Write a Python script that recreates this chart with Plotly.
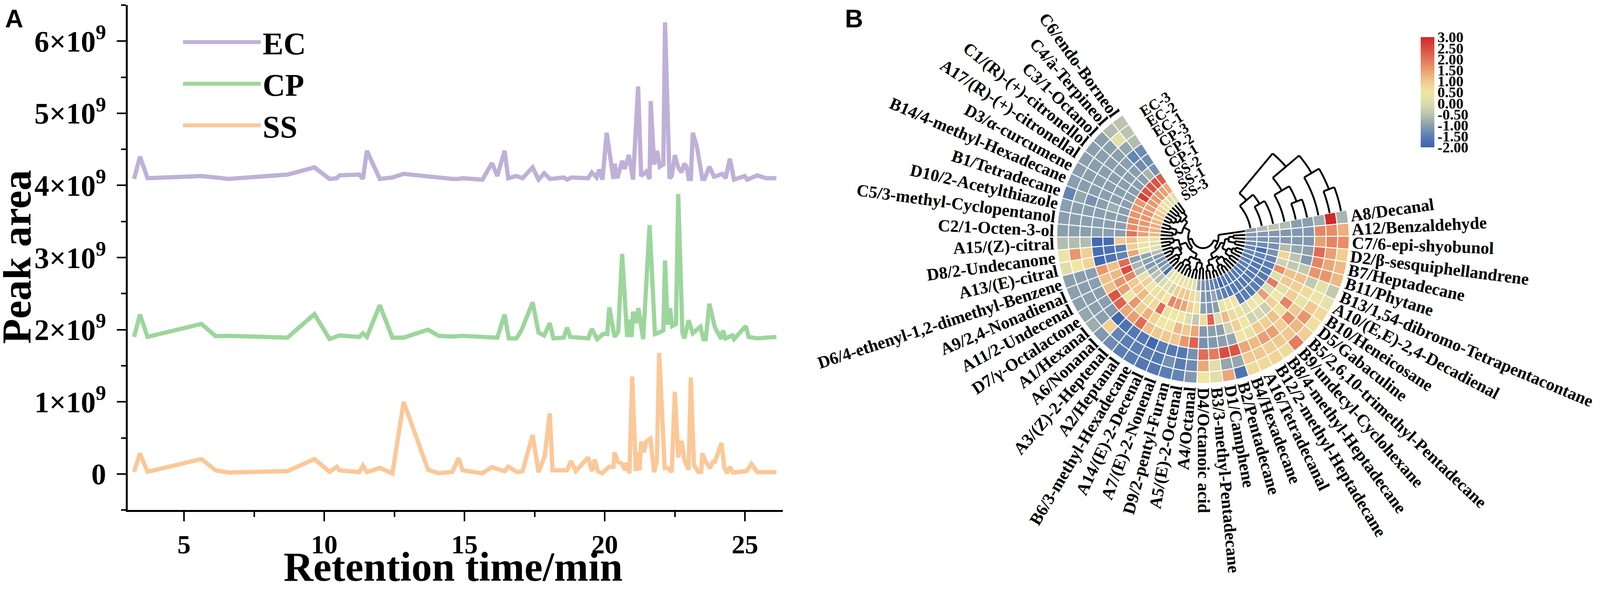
from math import cos, radians, sin

import plotly.graph_objects as go

# Layout numbers below are pixels of a 4317x1520 sheet, given to plotly as fractions of the page
W, H = 4317, 1520
S = 0.948  # page comes out a little narrower than the sheet, so px sizes shrink with it
H_CIRCLE = 1580  # vertical px scale that keeps the fan round

# Panel A: retention time (min) and peak area (x10^9)
ec_time = [3.22, 3.43, 3.70, 5.62, 6.13, 6.58, 8.69, 9.65, 10.19, 10.45, 10.54, 11.25, 11.38, 11.52, 11.98, 12.43,
           12.83, 13.70, 14.08, 14.57, 14.79, 14.93, 15.64, 15.98, 16.17, 16.43, 16.56, 16.85, 17.07, 17.43, 17.64,
           17.84, 18.05, 18.54, 18.66, 18.81, 19.41, 19.54, 19.71, 19.80, 19.92, 20.07, 20.31, 20.35, 20.45, 20.62,
           20.71, 20.86, 21.01, 21.19, 21.30, 21.48, 21.60, 21.64, 21.76, 21.87, 21.96, 22.09, 22.15, 22.31, 22.39,
           22.50, 22.62, 22.74, 22.83, 22.92, 22.99, 23.07, 23.14, 23.29, 23.48, 23.56, 23.73, 23.90, 24.20, 24.31,
           24.46, 24.61, 24.99, 25.08, 25.44, 25.74, 26.12]
ec_area = [4.09, 4.40, 4.10, 4.13, 4.11, 4.09, 4.15, 4.25, 4.09, 4.10, 4.14, 4.15, 4.09, 4.48, 4.09, 4.11,
           4.16, 4.12, 4.10, 4.09, 4.09, 4.10, 4.08, 4.31, 4.13, 4.48, 4.10, 4.13, 4.10, 4.25, 4.08,
           4.17, 4.09, 4.11, 4.08, 4.11, 4.10, 4.18, 4.11, 4.22, 4.08, 4.73, 4.09, 4.30, 4.10, 4.34,
           4.23, 4.42, 4.08, 5.37, 4.13, 4.19, 4.09, 5.17, 4.29, 4.48, 4.26, 4.29, 6.26, 4.10, 4.13,
           4.42, 4.25, 4.18, 4.30, 4.26, 4.09, 4.09, 4.73, 4.53, 4.09, 4.09, 4.26, 4.12, 4.16, 4.10,
           4.37, 4.08, 4.13, 4.08, 4.14, 4.10, 4.10]

cp_time = [3.22, 3.43, 3.70, 5.62, 6.13, 6.58, 8.69, 9.65, 10.19, 10.45, 10.54, 11.25, 11.38, 11.52, 11.98, 12.43,
           12.83, 13.70, 14.08, 14.57, 14.79, 14.93, 15.64, 16.17, 16.43, 16.58, 16.85, 17.03, 17.43, 17.64, 17.84,
           18.04, 18.17, 18.54, 18.66, 18.77, 19.41, 19.54, 19.73, 19.94, 20.09, 20.16, 20.35, 20.48, 20.62, 20.80,
           20.86, 20.96, 21.01, 21.11, 21.20, 21.37, 21.60, 21.79, 21.94, 22.09, 22.15, 22.24, 22.33, 22.40, 22.54,
           22.62, 22.77, 22.84, 22.99, 23.14, 23.41, 23.52, 23.60, 23.73, 23.93, 24.16, 24.21, 24.31, 24.55, 24.61,
           25.03, 25.13, 25.44, 26.12]
cp_area = [1.90, 2.21, 1.90, 2.08, 1.91, 1.915, 1.89, 2.216, 1.87, 1.915, 1.92, 1.90, 1.95, 1.90, 2.34, 1.89,
           1.89, 2.00, 1.915, 1.905, 1.905, 1.915, 1.90, 1.89, 2.21, 1.88, 1.88, 1.99, 2.38, 1.96, 1.92,
           2.09, 1.88, 1.89, 2.03, 1.90, 1.88, 2.01, 1.87, 1.94, 1.94, 2.31, 1.90, 1.97, 3.05, 1.90,
           2.14, 1.90, 2.25, 2.09, 2.30, 1.87, 3.45, 1.94, 1.96, 1.99, 2.96, 2.07, 2.30, 2.05, 2.08,
           3.88, 1.96, 1.88, 2.13, 1.95, 2.04, 1.87, 1.87, 2.36, 2.03, 1.87, 1.99, 1.88, 1.92, 1.87,
           2.05, 1.90, 1.88, 1.90]

ss_time = [3.22, 3.43, 3.70, 5.62, 6.13, 6.58, 8.69, 9.65, 10.19, 10.45, 10.54, 11.25, 11.38, 11.52, 11.98, 12.43,
           12.83, 13.70, 14.08, 14.57, 14.79, 14.93, 15.64, 15.98, 16.17, 16.43, 16.56, 16.88, 17.07, 17.43, 17.64,
           17.86, 18.04, 18.14, 18.66, 18.79, 18.97, 19.41, 19.54, 19.64, 19.75, 19.90, 20.16, 20.31, 20.35, 20.47,
           20.62, 20.73, 20.77, 20.88, 20.98, 21.11, 21.17, 21.24, 21.30, 21.39, 21.48, 21.63, 21.76, 21.86, 21.94,
           22.14, 22.27, 22.39, 22.50, 22.62, 22.74, 22.84, 22.99, 23.07, 23.18, 23.33, 23.44, 23.48, 23.60, 23.75,
           23.86, 23.93, 24.16, 24.27, 24.37, 24.46, 24.57, 25.06, 25.23, 25.44, 26.12]
ss_area = [0.03, 0.285, 0.03, 0.207, 0.05, 0.02, 0.04, 0.207, 0.03, 0.10, 0.05, 0.025, 0.115, 0.025, 0.085, 0.007,
           1.00, 0.06, 0.01, 0.03, 0.22, 0.05, 0.01, 0.095, 0.07, 0.04, 0.10, 0.025, 0.04, 0.54, 0.025,
           0.25, 0.84, 0.05, 0.05, 0.18, 0.04, 0.23, 0.04, 0.20, 0.04, 0.01, 0.10, 0.10, 0.30, 0.17,
           0.14, 0.05, 0.155, 0.01, 1.35, 0.04, 0.30, 0.05, 0.45, 0.30, 0.45, 0.49, 0.025, 0.18, 1.68,
           0.08, 0.08, 0.025, 1.14, 0.23, 0.46, 0.19, 0.06, 1.34, 0.13, 0.03, 0.03, 0.285, 0.17, 0.08,
           0.17, 0.17, 0.43, 0.08, 0.01, 0.10, 0.02, 0.04, 0.14, 0.025, 0.025]

y_major = [0, 1, 2, 3, 4, 5, 6]
y_major_text = ["0", "1×10<sup>9</sup>", "2×10<sup>9</sup>", "3×10<sup>9</sup>", "4×10<sup>9</sup>", "5×10<sup>9</sup>",
                "6×10<sup>9</sup>"]
y_minor = [-0.5, 0.5, 1.5, 2.5, 3.5, 4.5, 5.5, 6.5]

# Panel B: rows run anticlockwise from the top of the fan, rings outer to inner
ring_names = ["EC-3", "EC-2", "EC-1", "CP-3", "CP-2", "CP-1", "SS-2", "SS-1", "SS-3"]
compounds = [
    "C6/endo-Borneol", "C4/à-Terpineol", "C3/1-Octanol", "C1/(R)-(+)-citronellol", "A17/(R)-(+)-citronellal",
    "D3/α-curcumene", "B14/4-methyl-Hexadecane", "B1/Tetradecane", "D10/2-Acetylthiazole",
    "C5/3-methyl-Cyclopentanol", "C2/1-Octen-3-ol", "A15/(Z)-citral", "D8/2-Undecanone", "A13/(E)-citral",
    "D6/4-ethenyl-1,2-dimethyl-Benzene", "A9/2,4-Nonadienal", "A11/2-Undecenal", "D7/γ-Octalactone", "A1/Hexanal",
    "A6/Nonanal", "A3/(Z)-2-Heptenal", "A2/Heptanal", "B6/3-methyl-Hexadecane", "A14/(E)-2-Decenal",
    "A7/(E)-2-Nonenal", "D9/2-pentyl-Furan", "A5/(E)-2-Octenal", "A4/Octanal", "D4/Octanoic acid",
    "B3/3-methyl-Pentadecane", "D1/Camphene", "B2/Pentadecane", "B4/Hexadecane", "A16/Tetradecanal",
    "B12/2-methyl-Heptadecane", "B8/4-methyl-Heptadecane", "B9/undecyl-Cyclohexane",
    "B5/2,6,10-trimethyl-Pentadecane", "D5/Gabaculine", "B10/Heneicosane", "A10/(E,E)-2,4-Decadienal",
    "B13/1,54-dibromo-Tetrapentacontane", "B11/Phytane", "B7/Heptadecane", "D2/β-sesquiphellandrene",
    "C7/6-epi-shyobunol", "A12/Benzaldehyde", "A8/Decanal",
]
heat_values = [
    [-0.5, -0.5, -0.6, -1.3, -1.3, -1.2, 2.3, 1.4, 0.1],
    [-0.6, 0.2, -0.9, -1.4, -1.3, -0.7, 2.4, 1.5, 0.0],
    [-1.0, -1.0, -1.0, -1.0, -1.0, -1.0, 2.4, 1.6, 0.3],
    [-1.0, -1.0, -1.0, -1.0, -1.0, -1.0, 2.4, 1.6, 0.6],
    [-1.0, -1.0, -1.0, -1.0, -1.0, -1.0, 2.7, 1.6, 0.8],
    [-1.0, -1.0, -1.0, -1.0, -1.0, -1.0, 1.6, 1.5, 1.0],
    [-1.0, -1.0, -1.0, -1.0, -1.0, -1.0, 1.6, 1.6, 1.1],
    [-1.4, -0.9, -1.2, -1.0, -0.8, -1.0, 1.6, 1.6, 1.2],
    [-1.0, -1.0, -1.0, -1.0, -1.0, -1.0, 1.7, 1.6, 1.3],
    [-1.0, -1.0, -1.0, -1.0, -1.0, -1.0, 1.7, 1.5, 1.3],
    [-1.0, -1.0, -1.0, -1.0, -1.0, -1.0, 2.0, 1.5, 1.2],
    [-0.6, -0.6, -0.6, -1.9, -1.8, 1.0, 1.1, 0.6, 0.3],
    [0.4, 1.6, 0.9, -1.8, -1.7, -1.5, 0.9, 0.4, 0.1],
    [0.1, 0.5, 0.8, -1.9, -1.7, -1.4, 1.4, 0.5, 0.1],
    [-1.0, -1.0, -1.0, 1.6, 1.1, 2.1, -1.0, -0.9, -0.6],
    [-1.0, -1.0, -1.0, 1.1, 1.2, 2.5, -0.7, -1.0, -1.1],
    [-1.0, -1.0, -1.0, 1.1, 1.6, 1.8, -0.6, -1.1, -1.2],
    [-0.9, -1.0, -1.0, 2.4, 1.5, 1.0, 0.3, -0.8, -1.2],
    [-0.8, -1.0, -1.1, 2.2, 0.5, 1.0, 0.9, -0.5, -1.0],
    [-1.1, 0.9, -1.9, 1.4, 1.6, 1.2, 0.5, -0.6, -1.9],
    [-1.3, -1.4, -1.7, 1.5, 0.9, 0.7, 0.6, 0.0, 0.1],
    [-1.5, -1.5, -1.6, 2.1, 1.3, 0.7, 0.7, 0.2, 0.4],
    [-1.5, -1.5, -1.6, 1.1, 0.8, 2.1, 0.5, -0.1, 0.5],
    [-1.6, -1.5, -1.9, 1.0, 0.5, 0.6, 1.8, 0.9, 0.2],
    [-1.6, -1.6, -1.5, 1.0, 0.5, 0.5, 1.6, 1.0, 0.3],
    [-1.5, -1.2, -1.6, 1.0, 1.2, 0.5, 1.4, 1.0, 0.2],
    [-1.4, -1.5, -1.6, 1.6, 1.0, 0.0, 0.9, 0.7, 0.2],
    [-1.1, -1.3, -1.2, 2.2, 1.4, -0.4, 0.6, 0.1, -0.9],
    [0.5, 1.4, 2.1, -1.2, -1.1, 0.7, -1.0, -1.1, -1.2],
    [0.1, 0.1, 1.9, -1.1, -1.0, 2.2, -1.1, -1.2, -1.3],
    [1.4, -0.9, 2.5, -1.0, -1.0, 0.0, -1.0, -0.9, -1.4],
    [-1.7, -0.9, 2.4, -0.9, -0.2, 1.2, 0.4, -1.3, -1.5],
    [0.7, 1.0, 1.4, 0.5, 0.9, 0.7, 0.5, -1.5, -2.0],
    [0.7, 1.0, 1.2, 0.3, 0.5, 0.3, 0.5, -1.6, -1.6],
    [0.8, 0.9, 1.5, 1.0, -0.2, 0.0, -1.6, -1.6, -1.6],
    [0.7, 1.0, 1.5, 0.9, -0.1, 0.5, -1.5, -1.6, -1.6],
    [1.9, 1.0, 0.9, 1.1, -0.3, 0.5, -1.6, -1.6, -1.6],
    [0.9, 1.2, 1.7, 0.6, 0.9, 1.5, -1.5, -1.6, -1.6],
    [0.6, 1.6, 1.0, 1.8, 0.5, 0.0, -1.6, -1.6, -1.6],
    [0.7, 1.0, 0.3, 0.9, 0.2, 1.9, -1.6, -1.6, -1.5],
    [0.3, 0.4, 0.7, 0.9, 1.0, 0.1, -1.6, -1.6, -1.5],
    [-0.4, 0.2, -0.4, 1.1, 1.1, 1.7, -1.5, -1.6, -1.6],
    [1.2, 1.6, 1.6, -0.4, -0.4, -0.2, -1.4, -1.4, -1.4],
    [1.2, 1.4, 1.8, -1.1, -0.5, 0.8, -1.2, -1.8, -1.4],
    [0.9, 1.5, 2.1, -1.0, -0.9, -0.6, -1.2, -1.3, -1.3],
    [1.7, 1.8, 1.5, -1.1, -1.1, -1.1, -1.1, -1.2, -1.1],
    [1.3, 1.7, 1.8, -1.1, -1.1, -1.1, -1.1, -1.1, -1.1],
    [-0.7, 3.0, -0.8, -1.0, -1.0, -0.6, -0.5, -0.6, -1.0],
]
# [merge radius, child, child]; ints are row numbers
row_tree = [30,
            [40,
             [58,
              [70, [84, 1, 2], [78, [90, 3, 4], [86, 5, [96, 6, 7]]]],
              [74, [92, 8, 9], [82, 10, 11]]],
             [48,
              [66, [80, 12, [90, 13, 14]], [72, [88, 15, [94, 16, 17]], [84, 18, [92, 19, 20]]]],
              [62, [76, [90, 21, 22], [86, 23, [94, 24, 25]]], [70, [90, 26, 27], [84, 28, 29]]]]],
            [42,
             [50,
              [64, [78, [92, 30, 31], [96, 32, 33]], [72, [88, 34, [96, 35, 36]], [84, 37, 38]]],
              [60, [74, [90, 39, 40], [86, 41, [94, 42, 43]]], [70, [88, 44, 45], [82, 46, 47]]]],
             48]]
# [merge angle, child, child]; ints are ring positions
ring_tree = [50.2,
             [40.3, [30.5, [20.8, 0, 1], 2], [30.5, [20.8, 3, 4], 5]],
             [40.3, [30.4, 6, 7], 8]]

cbar_ticks = [3.0, 2.5, 2.0, 1.5, 1.0, 0.5, 0.0, -0.5, -1.0, -1.5, -2.0]
cbar_text = ["3.00", "2.50", "2.00", "1.50", "1.00", "0.50", "0.00", "-0.50", "-1.00", "-1.50", "-2.00"]
heat_colors = ["#3a63b0", "#5b7db4", "#8a9fae", "#bcc4b0", "#dcdcac", "#efe6a2", "#f1c88e", "#ea9f72", "#e4735a",
               "#db4c3f", "#cf2a27"]
line_colors = {"EC": "#bfb0d8", "CP": "#9cd69c", "SS": "#fbc898"}

# Times Bold advance widths, for centring the rotated labels
char_em = {"i": .278, "l": .278, "j": .333, "t": .333, "f": .333, "r": .444, "s": .389, "e": .444, "c": .444,
           "a": .5, "o": .5, "b": .556, "d": .556, "g": .5, "h": .556, "k": .556, "m": .833, "n": .556, "p": .556,
           "q": .556, "u": .556, "v": .5, "x": .5, "y": .5, "z": .444, "-": .333, "/": .278, "(": .333, ")": .333,
           ",": .25, " ": .25, "+": .57, "A": .722, "B": .667, "C": .722, "D": .722, "E": .667, "F": .611, "G": .778,
           "H": .778, "N": .722, "O": .778, "P": .611, "R": .722, "T": .667, "U": .722, "Z": .667}

FONT = "Liberation Serif"
CX, CY, R_OUT = 3250, 605, 396
RING_W = 31.2
ROW_STEP = 5.154
FAN_START = 123.3
R_IN = R_OUT - RING_W * len(ring_names)


def row_angle(row):
    return FAN_START + ROW_STEP * (row - 0.5)


def arc(r, a, b):
    n = max(2, int(abs(b - a)) + 2)
    return [r] * n, [a + (b - a) * i / (n - 1) for i in range(n)]


def add_seg(rs, ts, seg_r, seg_t):
    rs.extend(seg_r + [None])
    ts.extend(seg_t + [None])


def draw_rows(node, rs, ts):
    if isinstance(node, int):
        return row_angle(node), R_IN
    r, left, right = node
    ta, ra = draw_rows(left, rs, ts)
    tb, rb = draw_rows(right, rs, ts)
    add_seg(rs, ts, [ra, r], [ta, ta])
    add_seg(rs, ts, [rb, r], [tb, tb])
    add_seg(rs, ts, *arc(r, ta, tb))
    return (ta + tb) / 2, r


def draw_rings(node, rs, ts, edge):
    if isinstance(node, int):
        return R_OUT - RING_W * (node + 0.5), edge
    t, left, right = node
    ra, ta = draw_rings(left, rs, ts, edge)
    rb, tb = draw_rings(right, rs, ts, edge)
    add_seg(rs, ts, *arc(ra, ta, t))
    add_seg(rs, ts, *arc(rb, tb, t))
    add_seg(rs, ts, [ra, rb], [t, t])
    return (ra + rb) / 2, t


def on_fan(r, angle):
    rad = radians(angle)
    return (CX + r * cos(rad)) / W, 1 - CY / H + r * sin(rad) / H_CIRCLE


fig = go.Figure()

for name, xs, ys in [("EC", ec_time, ec_area), ("CP", cp_time, cp_area), ("SS", ss_time, ss_area)]:
    fig.add_trace(go.Scatter(x=xs, y=ys, mode="lines", name=name,
                             line={"color": line_colors[name], "width": 11.5 * S}))

cell_theta, cell_base, cell_value = [], [], []
for i, row in enumerate(heat_values):
    for k, value in enumerate(row):
        cell_theta.append(row_angle(i + 1))
        cell_base.append(R_OUT - RING_W * (k + 1))
        cell_value.append(value)

fig.add_trace(go.Barpolar(
    r=[RING_W] * len(cell_value), base=cell_base, theta=cell_theta, width=ROW_STEP,
    showlegend=False, hoverinfo="skip",
    marker={
        "color": cell_value, "cmin": -2, "cmax": 3,
        "colorscale": [[i / (len(heat_colors) - 1), c] for i, c in enumerate(heat_colors)],
        "line": {"color": "white", "width": 2.5},
        "colorbar": {
            "x": 3840 / W, "xanchor": "left", "xpad": 0, "y": 1 - 88 / H, "yanchor": "top", "ypad": 0,
            "len": 285 / H, "thickness": 37 * S, "outlinewidth": 0, "ticks": "",
            "tickmode": "array", "tickvals": cbar_ticks, "ticktext": cbar_text,
            "tickfont": {"family": FONT, "size": 40 * S, "weight": "bold", "color": "black"},
        },
    },
))

tree_r, tree_t = [], []
draw_rows(row_tree, tree_r, tree_t)
draw_rings(ring_tree, tree_r, tree_t, FAN_START + ROW_STEP * len(compounds) - 360)
fig.add_trace(go.Scatterpolar(r=tree_r, theta=tree_t, mode="lines", showlegend=False, hoverinfo="skip",
                              line={"color": "black", "width": 5 * S}))

notes = []
for i, label in enumerate(compounds):
    angle = row_angle(i + 1)
    width = sum(char_em.get(c, 0.5) for c in label) * 46
    x, y = on_fan(R_OUT + 8 + width / 2, angle)
    # Labels flip at the bottom of the fan, after A4/Octanal
    tilt = 180 - angle if i < 28 else -angle
    notes.append({"x": x, "y": y, "xref": "paper", "yref": "paper", "text": label,
                  "showarrow": False, "textangle": tilt, "xanchor": "center", "yanchor": "middle",
                  "font": {"family": FONT, "size": 46 * S, "weight": "bold", "color": "black"}})

for k, label in enumerate(ring_names):
    x, y = on_fan(R_OUT - RING_W * (k + 0.5), 110 - 10 * k / 8)
    notes.append({"x": x, "y": y, "xref": "paper", "yref": "paper",
                  "text": label, "showarrow": False, "textangle": -32, "xanchor": "center", "yanchor": "middle",
                  "font": {"family": FONT, "size": 40 * S, "weight": "bold", "color": "black"}})

for text, x, y in [("A", 30, 40), ("B", 2305, 40)]:
    notes.append({"x": x / W, "y": 1 - y / H, "xref": "paper", "yref": "paper", "text": text, "showarrow": False,
                  "xanchor": "center", "yanchor": "middle",
                  "font": {"family": "Liberation Sans", "size": 68 * S, "weight": "bold", "color": "black"}})

title_font = {"family": FONT, "size": 111 * S, "weight": "bold", "color": "black"}
notes.append({"x": 1219 / W, "y": 1 - 1458 / H, "xref": "paper", "yref": "paper", "text": "Retention time/min",
              "showarrow": False, "xanchor": "center", "yanchor": "middle", "font": title_font})
notes.append({"x": 36 / W, "y": 1 - 657 / H, "xref": "paper", "yref": "paper", "text": "Peak area",
              "showarrow": False, "textangle": -90, "xanchor": "center", "yanchor": "middle", "font": title_font})

axis_font = {"family": FONT, "size": 72 * S, "weight": "bold", "color": "black"}
y_axis_font = {"family": FONT, "size": 80 * S, "weight": "bold", "color": "black"}

fig.update_layout(
    autosize=True, margin={"l": 0, "r": 0, "t": 0, "b": 0},
    paper_bgcolor="white", plot_bgcolor="white",
    annotations=notes,
    showlegend=True,
    legend={"x": 482 / W, "xanchor": "left", "y": 1 - 42 / H, "yanchor": "top", "itemwidth": 210 * S,
            "bgcolor": "rgba(0,0,0,0)",
            "font": {"family": FONT, "size": 84 * S, "weight": "bold", "color": "black"}},
    xaxis={
        "domain": [338 / W, 2112 / W], "range": [3.0, 26.35], "anchor": "y",
        "showgrid": False, "zeroline": False, "showline": True, "linecolor": "black", "linewidth": 5,
        "ticks": "outside", "ticklen": 25 * S, "tickwidth": 4, "tickcolor": "black",
        "tickmode": "array", "tickvals": [5, 10, 15, 20, 25], "tickfont": axis_font, "ticklabelstandoff": 0,
        "minor": {"tickmode": "array", "tickvals": [7.5, 12.5, 17.5, 22.5], "ticks": "outside", "ticklen": 13 * S,
                  "tickwidth": 4, "tickcolor": "black"},
    },
    yaxis={
        "domain": [1 - 1311 / H, 1 - 5 / H], "range": [-0.5, 6.5], "anchor": "x",
        "showgrid": False, "zeroline": False, "showline": True, "linecolor": "black", "linewidth": 5,
        "ticks": "outside", "ticklen": 25 * S, "tickwidth": 4, "tickcolor": "black",
        "tickmode": "array", "tickvals": y_major, "ticktext": y_major_text, "tickfont": y_axis_font,
        "ticklabelstandoff": 12,
        "minor": {"tickmode": "array", "tickvals": y_minor, "ticks": "outside", "ticklen": 13 * S,
                  "tickwidth": 4, "tickcolor": "black"},
    },
    polar={
        "domain": {"x": [(CX - R_OUT) / W, (CX + R_OUT) / W], "y": [1 - (CY + R_OUT) / H, 1 - (CY - R_OUT) / H]},
        "bgcolor": "rgba(0,0,0,0)",
        "radialaxis": {"visible": False, "showticklabels": False, "range": [0, R_OUT]},
        "angularaxis": {"visible": False, "showticklabels": False, "rotation": 0, "direction": "counterclockwise"},
        "barmode": "overlay",
    },
)

fig.write_html("out.html")
